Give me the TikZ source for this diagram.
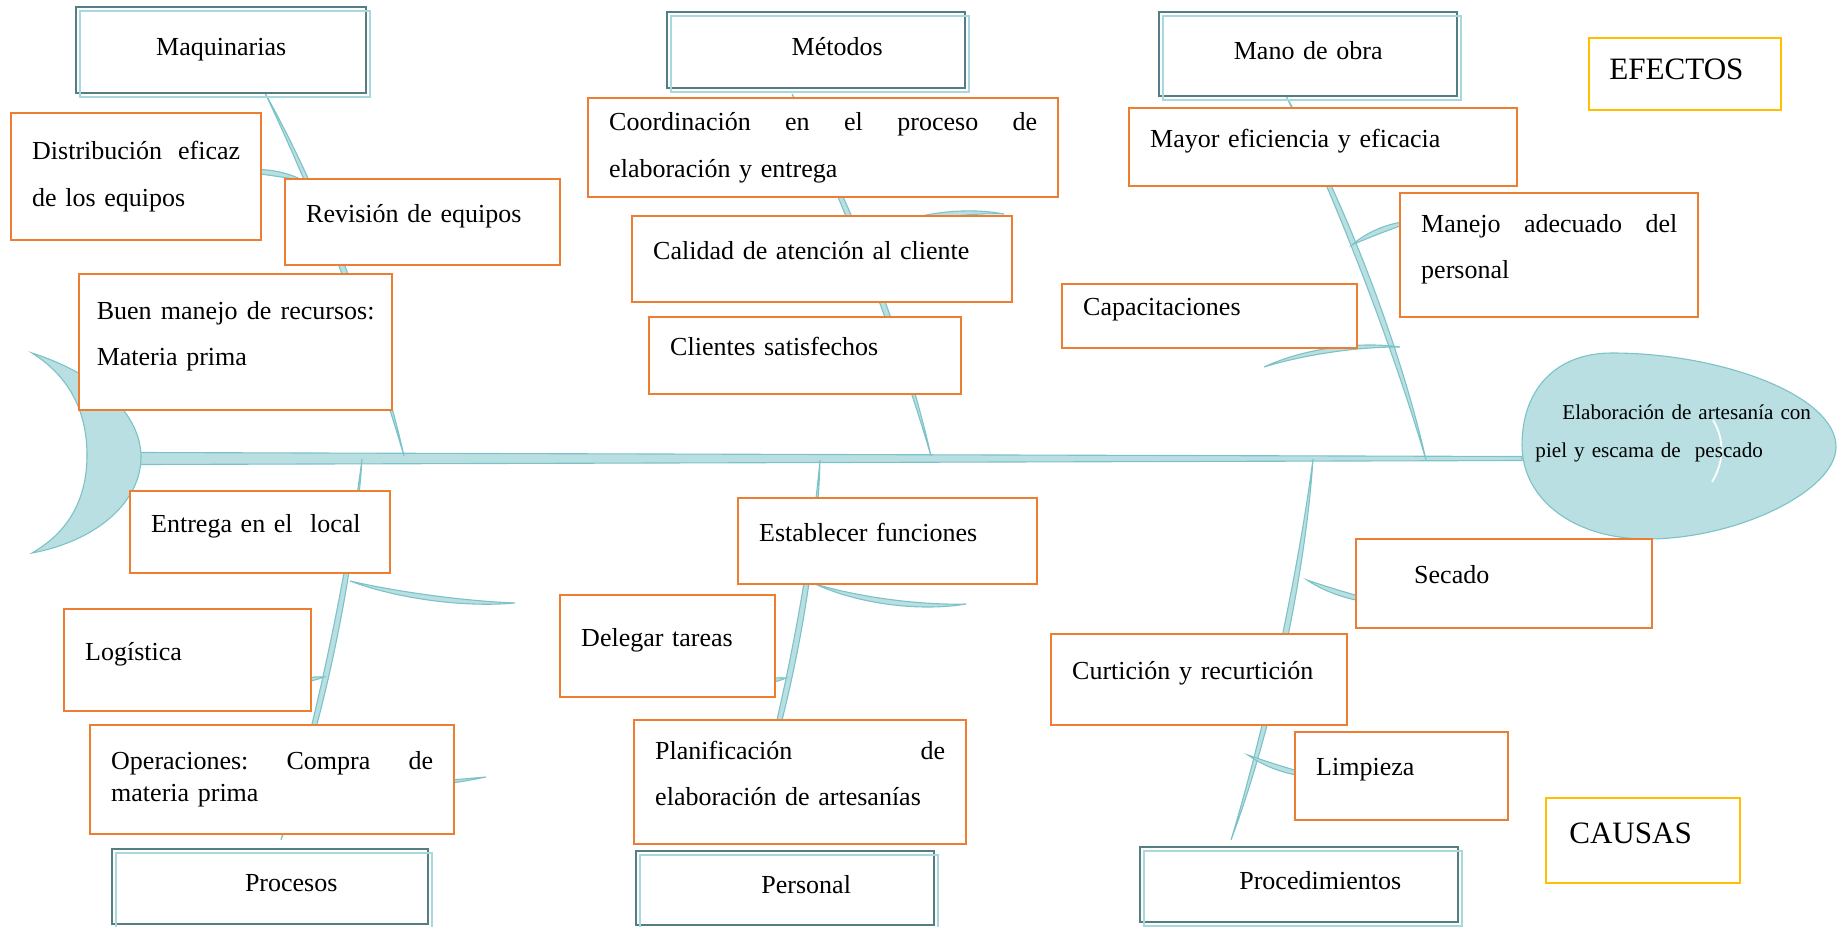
\documentclass[tikz,border=0pt]{standalone}
\usepackage{fontspec}
\setmainfont{Liberation Serif}
\usetikzlibrary{calc,positioning}

\definecolor{bonefill}{HTML}{B9DFE2}
\definecolor{boneline}{HTML}{7CC3C8}
\definecolor{catdark}{HTML}{557E82}
\definecolor{catlight}{HTML}{A8D8DB}
\definecolor{causeline}{HTML}{ED7D31}
\definecolor{tagline}{HTML}{FFC000}

\newcommand{\boxlift}{\rule[-8pt]{0pt}{0pt}}
\newcommand{\wideline}[2]{\hbox to #1{#2}}
% bone from #1 to #2, bowed by #3, half thickness #4
\newcommand{\bone}[4]{%
  \path[bone] (#1)
    .. controls ($(#1)!.3!(#2)!#3+#4!90:(#2)$) and ($(#1)!.7!(#2)!#3+#4!90:(#2)$) .. (#2)
    .. controls ($(#1)!.7!(#2)!#3-#4!90:(#2)$) and ($(#1)!.3!(#2)!#3-#4!90:(#2)$) .. (#1) -- cycle;}

\begin{document}
\begin{tikzpicture}[x=0.45pt, y=-0.45pt,
    bone/.style={fill=bonefill, draw=boneline, line width=0.5pt},
    cause/.style={draw=causeline, line width=1.1pt, fill=white, anchor=north west,
      align=left, inner xsep=9.45pt, inner ysep=0pt,
      font=\fontsize{11.7pt}{21pt}\selectfont},
    tag/.style={draw=tagline, line width=1.1pt, fill=white, anchor=north west,
      align=left, inner ysep=0pt, font=\fontsize{14pt}{17pt}\selectfont},
    cat/.style={draw=catdark, line width=1.1pt, fill=white, anchor=north west,
      align=center, inner xsep=0pt, inner ysep=0pt, text height=8.2pt, text depth=3.5pt,
      font=\fontsize{11.7pt}{14pt}\selectfont,
      postaction={draw=catlight, line width=1.1pt,
        transform canvas={shift={(1.8pt,-1.8pt)}}}},
    headtxt/.style={align=left, inner sep=0pt, font=\fontsize{9.5pt}{17.1pt}\selectfont}]
\useasboundingbox (0,0) rectangle (1838,926);

% spine and tail
\coordinate (spL) at (140,458.5);
\coordinate (spR) at (1522,458.5);
\path[bone] ($(spL)+(0,-6)$) -- ($(spR)+(0,-2)$) -- ($(spR)+(0,2)$) -- ($(spL)+(0,6)$) -- cycle;
\path[bone] (32,353) .. controls (100,375) and (141,415) .. (141,457)
  .. controls (141,500) and (100,540) .. (32,553)
  .. controls (72,530) and (87,495) .. (87,455)
  .. controls (87,415) and (72,378) .. (32,353) -- cycle;

% main bones
\coordinate (maqT) at (265,93);   \coordinate (maqS) at (404,456);
\coordinate (metT) at (792,94);   \coordinate (metS) at (931,456);
\coordinate (manT) at (1286,96);  \coordinate (manS) at (1426,460);
\coordinate (proS) at (362,459);  \coordinate (proB) at (281,840);
\coordinate (perS) at (820,460);  \coordinate (perB) at (745,840);
\coordinate (pcdS) at (1313,459); \coordinate (pcdB) at (1231,840);
\bone{maqT}{maqS}{6pt}{1.7pt}
\bone{metT}{metS}{6pt}{1.7pt}
\bone{manT}{manS}{6pt}{1.7pt}
\bone{proS}{proB}{6pt}{1.7pt}
\bone{perS}{perB}{7.2pt}{1.7pt}
\bone{pcdS}{pcdB}{6pt}{1.7pt}

% small bones
\coordinate (distA) at (302,180);  \coordinate (distB) at (240,171);
\coordinate (calA) at (858,240);   \coordinate (calB) at (1004,214);
\coordinate (mnjA) at (1352,245);  \coordinate (mnjB) at (1415,221);
\coordinate (capA) at (1400,347);  \coordinate (capB) at (1264,367);
\coordinate (entA) at (350,581);   \coordinate (entB) at (515,603);
\coordinate (logA) at (324,677);   \coordinate (logB) at (280,684);
\coordinate (opA) at (298,790);    \coordinate (opB) at (486,777);
\coordinate (estA) at (815,584);   \coordinate (estB) at (966,604);
\coordinate (delA) at (786,678);   \coordinate (delB) at (750,684);
\coordinate (secA) at (1307,580);  \coordinate (secB) at (1385,603);
\coordinate (limA) at (1248,755);  \coordinate (limB) at (1320,777);
\bone{distA}{distB}{-1.5pt}{1.5pt}
\bone{calA}{calB}{6pt}{1.6pt}
\bone{mnjA}{mnjB}{2pt}{1.5pt}
\bone{capA}{capB}{-4.2pt}{1.3pt}
\bone{entA}{entB}{-3.6pt}{1.5pt}
\bone{logA}{logB}{0pt}{1.3pt}
\bone{opA}{opB}{-2pt}{1.5pt}
\bone{estA}{estB}{-4.8pt}{1.5pt}
\bone{delA}{delB}{0pt}{1.3pt}
\bone{secA}{secB}{-2pt}{1.5pt}
\bone{limA}{limB}{-2pt}{1.5pt}

% head
\path[bone] (1522,445) .. controls (1522,390) and (1555,353) .. (1612,353)
  .. controls (1720,353) and (1836,395) .. (1836,447)
  .. controls (1836,490) and (1740,538) .. (1650,539)
  .. controls (1575,540) and (1522,500) .. (1522,445) -- cycle;
\draw[white, line width=0.8pt] (1713,420) .. controls (1725,440) and (1724,462) .. (1712,482);
\node[headtxt, anchor=west, text width=126pt] (head) at (1535,433)
  {\hspace*{12.15pt}\mbox{Elaboración de artesanía con}\\piel y escama de~ pescado};

% causes
\node[cause, text width=93.6pt, minimum height=57.15pt] (dist) at (10,112)
  {\wideline{93.6pt}{Distribución\hfill eficaz}\\de los equipos};
\node[cause, text width=104.85pt, minimum height=38.7pt] (rev) at (284,178) {Revisión de equipos\boxlift};
\node[cause, inner xsep=7.9pt, text width=125pt, minimum height=61.2pt] (buen) at (78,273)
  {\wideline{125pt}{Buen\hfill manejo\hfill de\hfill recursos:}\\Materia prima\boxlift};
\node[cause, text width=192.6pt, minimum height=44.55pt] (coord) at (587,97)
  {\wideline{192.6pt}{Coordinación\hfill en\hfill el\hfill proceso\hfill de}\\elaboración y entrega};
\node[cause, text width=152.1pt, minimum height=38.7pt] (cal) at (631,215) {Calidad de atención al cliente\boxlift};
\node[cause, text width=121.5pt, minimum height=34.65pt] (cli) at (648,316) {Clientes satisfechos\boxlift};
\node[cause, text width=155.7pt, minimum height=35.1pt] (mayor) at (1128,107) {Mayor eficiencia y eficacia\boxlift};
\node[cause, text width=115.2pt, minimum height=55.8pt] (manejo) at (1399,192)
  {\wideline{115.2pt}{Manejo\hfill adecuado\hfill del}\\personal\boxlift};
\node[cause, text width=113.85pt, minimum height=28.8pt] (capa) at (1061,283) {Capacitaciones\boxlift};
\node[cause, text width=98.1pt, minimum height=36.9pt] (ent) at (129,490) {Entrega en el~ local\boxlift};
\node[cause, text width=92.25pt, minimum height=45.9pt] (log) at (63,608) {Logística\boxlift};
\node[cause, text width=144.9pt, minimum height=49.05pt, font=\fontsize{11.7pt}{14.4pt}\selectfont] (oper) at (89,724)
  {\wideline{144.9pt}{Operaciones:\hfill Compra\hfill de}\\materia prima};
\node[cause, text width=115.65pt, minimum height=38.7pt] (est) at (737,497) {Establecer funciones\boxlift};
\node[cause, text width=77.85pt, minimum height=45.9pt] (del) at (559,594) {Delegar tareas\boxlift};
\node[cause, text width=130.5pt, minimum height=55.8pt] (plan) at (633,719)
  {\wideline{130.5pt}{Planificación\hfill de}\\elaboración de artesanías\boxlift};
\node[cause, text width=114.3pt, minimum height=40.05pt] (sec) at (1355,538) {\hspace*{16.65pt}Secado\boxlift};
\node[cause, text width=114.3pt, minimum height=40.95pt] (cur) at (1050,633) {Curtición y recurtición\boxlift};
\node[cause, text width=76.95pt, minimum height=39.6pt] (lim) at (1294,731) {Limpieza\boxlift};

% effects / causes tags
\node[tag, inner xsep=9pt, text width=68.4pt, minimum height=32.4pt] (efe) at (1588,37)
  {EFECTOS\rule[-4.6pt]{0pt}{0pt}};
\node[tag, inner xsep=10.35pt, text width=66.6pt, minimum height=38.25pt] (cau) at (1545,797)
  {CAUSAS\rule[-6.9pt]{0pt}{0pt}};

% categories
\node[cat, text width=130.5pt, minimum height=38.7pt] (maq) at (75,6) {Maquinarias};
\node[cat, text width=134.1pt, minimum height=34.2pt] (met) at (666,11) {\hspace*{18.9pt}Métodos};
\node[cat, text width=134.1pt, minimum height=37.8pt] (mano) at (1158,11) {Mano de obra};
\node[cat, text width=142.2pt, minimum height=33.75pt] (proc) at (111,848) {\hspace*{18.9pt}Procesos};
\node[cat, text width=134.1pt, minimum height=33.3pt] (pers) at (635,850) {\hspace*{18.9pt}Personal};
\node[cat, text width=143.1pt, minimum height=33.75pt] (pced) at (1139,846) {\hspace*{18.9pt}Procedimientos};
\end{tikzpicture}
\end{document}
